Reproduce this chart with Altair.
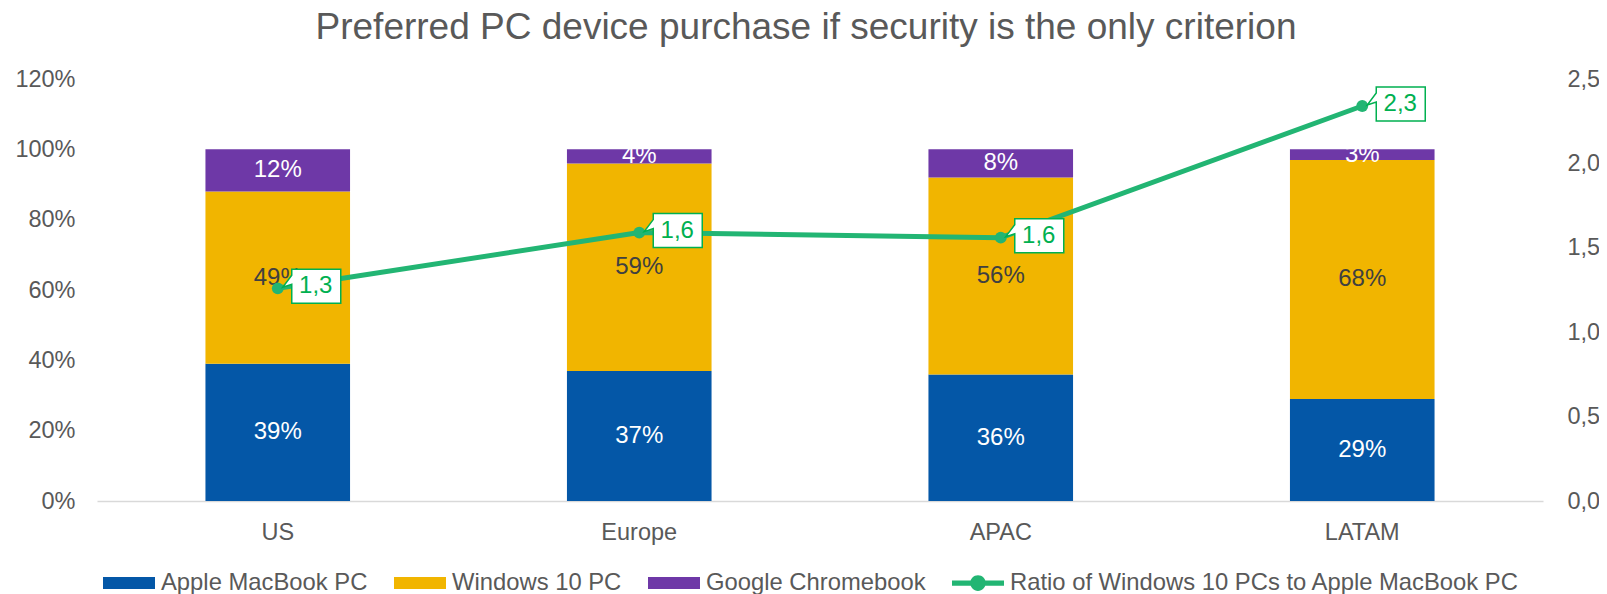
import altair as alt
import pandas as pd

# ---- data ----
regions = ["US", "Europe", "APAC", "LATAM"]
series_names = ["Apple MacBook PC", "Windows 10 PC", "Google Chromebook"]
apple = [39, 37, 36, 29]
windows = [49, 59, 56, 68]
chromebook = [12, 4, 8, 3]
ratio = [1.26, 1.59, 1.56, 2.34]
ratio_name = "Ratio of Windows 10 PCs to Apple MacBook PC"
left_ticks = [0, 0.2, 0.4, 0.6, 0.8, 1.0, 1.2]
right_ticks = [0, 0.5, 1.0, 1.5, 2.0, 2.5]

# ---- styles ----
FONT = "Liberation Sans"
GRAY = "#595959"
DARK = "#404040"
BLUE = "#0457A7"
GOLD = "#F1B500"
PURPLE = "#6E38A7"
GREEN = "#22B573"
LABEL_GREEN = "#00B050"
AX_FS = 23.5

all_series = series_names + [ratio_name]
color_scale = alt.Scale(domain=all_series, range=[BLUE, GOLD, PURPLE, GREEN])

rect_path = "M-1,-0.23 H1 V0.23 H-1 Z"
line_path = ("M-1,-0.1 H1 V0.1 H-1 Z "
             "M-0.3,0 A0.3,0.3 0 1,1 0.3,0 A0.3,0.3 0 1,1 -0.3,0 Z")
shape_scale = alt.Scale(domain=all_series, range=[rect_path, rect_path, rect_path, line_path])

# callout box (px / 50), point at origin, box to the right
callout_path = "M0.28,-0.38 H1.26 V0.3 H0.28 V-0.08 L0.1,-0.02 L0.28,-0.26 Z"


def make_legend():
    return alt.Legend(title=None, orient="none", legendX=6, legendY=478,
                      direction="horizontal", columns=4, columnPadding=26,
                      symbolSize=2704, symbolStrokeWidth=0, labelFontSize=23.8,
                      labelColor=GRAY, labelFont=FONT, labelOffset=6,
                      labelLimit=1000, padding=0)


rows = []
for i, r in enumerate(regions):
    for k, (name, vals) in enumerate(zip(series_names, [apple, windows, chromebook])):
        rows.append({"region": r, "series": name, "value": vals[i] / 100, "idx": k})
bar_df = pd.DataFrame(rows)
ratio_df = pd.DataFrame({"region": regions, "ratio": ratio})
legend_df = pd.DataFrame({"series": all_series})

x_enc = alt.X(
    "region:N", sort=regions,
    scale=alt.Scale(paddingInner=0.6, paddingOuter=0.3),
    axis=alt.Axis(title=None, labelAngle=0, ticks=False, domainColor="#D9D9D9",
                  domainWidth=1.5, labelPadding=19, labelFontSize=AX_FS, labelColor=GRAY,
                  labelFont=FONT, grid=False),
)

y_left = alt.Scale(domain=[0, 1.2], nice=False)

bars = alt.Chart(bar_df).mark_bar().encode(
    x=x_enc,
    y=alt.Y("value:Q", stack="zero", scale=y_left,
            axis=alt.Axis(title=None, values=left_ticks, format=".0%", domain=False,
                          ticks=False, grid=False, labelPadding=22, labelFontSize=AX_FS,
                          labelColor=GRAY, labelFont=FONT)),
    color=alt.Color("series:N", scale=color_scale, legend=make_legend()),
    order=alt.Order("idx:Q"),
)

bar_text = alt.Chart(bar_df).transform_stack(
    stack="value", groupby=["region"], as_=["y0", "y1"],
    sort=[alt.SortField("idx", order="ascending")],
).transform_calculate(
    mid="(datum.y0 + datum.y1) / 2",
    lab="format(datum.value, '.0%')",
).mark_text(fontSize=24, font=FONT).encode(
    x=alt.X("region:N", sort=regions),
    y=alt.Y("mid:Q", scale=y_left),
    text="lab:N",
    color=alt.condition(alt.datum.series == "Windows 10 PC", alt.value(DARK), alt.value("white")),
)

legend_layer = alt.Chart(legend_df).transform_filter("false").mark_point(
    filled=True, opacity=1
).encode(
    color=alt.Color("series:N", scale=color_scale, legend=make_legend()),
    shape=alt.Shape("series:N", scale=shape_scale, legend=make_legend()),
)

y_right_scale = alt.Scale(domain=[0, 2.5], nice=False)
y_right = alt.Y("ratio:Q", scale=y_right_scale,
                axis=alt.Axis(title=None, orient="right", values=right_ticks,
                              labelExpr="replace(format(datum.value, '.1f'), '.', ',')",
                              domain=False, ticks=False, grid=False, labelPadding=24,
                              labelFontSize=AX_FS, labelColor=GRAY, labelFont=FONT))

line = alt.Chart(ratio_df).mark_line(
    color=GREEN, strokeWidth=5,
    point=alt.OverlayMarkDef(filled=True, size=140, color=GREEN, opacity=1),
).encode(x=alt.X("region:N", sort=regions), y=y_right)

callout = alt.Chart(ratio_df).mark_point(
    shape=callout_path, size=10000, filled=True, fill="white", stroke=LABEL_GREEN,
    strokeWidth=1.5, opacity=1,
).encode(x=alt.X("region:N", sort=regions), y=alt.Y("ratio:Q", scale=y_right_scale))

callout_text = alt.Chart(ratio_df).transform_calculate(
    lab="replace(format(datum.ratio, '.1f'), '.', ',')"
).mark_text(fontSize=24, font=FONT, color=LABEL_GREEN, dx=38, dy=-2).encode(
    x=alt.X("region:N", sort=regions), y=alt.Y("ratio:Q", scale=y_right_scale), text="lab:N"
)

left = alt.layer(bars, bar_text, legend_layer)
right = alt.layer(line, callout, callout_text)

chart = alt.layer(left, right).resolve_scale(y="independent").properties(
    width=1446, height=422,
    title=alt.TitleParams("Preferred PC device purchase if security is the only criterion",
                          fontSize=37, font=FONT, fontWeight="normal", color=GRAY,
                          anchor="middle", dx=-14, offset=20),
    autosize=alt.AutoSizeParams(type="none"),
    padding={"left": 89, "top": 71, "right": 56, "bottom": 93},
).configure(font=FONT).configure_view(stroke=None)

chart.save("out.html", embed_options={"renderer": "svg", "actions": False})
